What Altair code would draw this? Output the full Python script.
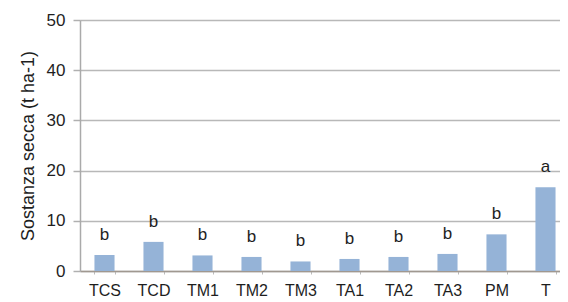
import altair as alt
import pandas as pd

categories = ["TCS", "TCD", "TM1", "TM2", "TM3", "TA1", "TA2", "TA3", "PM", "T"]
values = [3.2, 5.8, 3.1, 2.8, 1.9, 2.4, 2.8, 3.4, 7.3, 16.7]
letters = ["b", "b", "b", "b", "b", "b", "b", "b", "b", "a"]
y_ticks = [0, 10, 20, 30, 40, 50]

df = pd.DataFrame({"cat": categories, "val": values, "lab": letters})

FONT = "Liberation Sans"
TXT = "#1e1e1e"

x = alt.X("cat:N", sort=categories, title=None,
          scale=alt.Scale(paddingInner=0.59, paddingOuter=0.193, align=0.764),
          axis=alt.Axis(labelAngle=0, labelFontSize=16, labelColor=TXT,
                        labelFont=FONT, labelPadding=8, tickBand="extent",
                        tickSize=3, tickColor="#bbb", domainColor="#a09890",
                        domainWidth=1.5, grid=False))
y = alt.Y("val:Q", title="Sostanza secca (t ha-1)",
          scale=alt.Scale(domain=[0, 50], nice=False),
          axis=alt.Axis(values=y_ticks, labelFontSize=17,
                        labelColor=TXT, labelFont=FONT, tickSize=7,
                        tickColor="#b0b0b0", tickWidth=1.5, labelPadding=8,
                        domainColor="#aaa", domainWidth=1.5,
                        grid=True, gridColor="#b8b8b8", gridWidth=1.5,
                        gridOpacity=1, titleFontSize=18,
                        titleFont=FONT, titleColor=TXT,
                        titleFontWeight="normal", titlePadding=9))

base = alt.Chart(df).encode(x=x, y=y)
bars = base.mark_bar(color="#95b3d7")
text = base.mark_text(dy=-20, fontSize=17, font=FONT, color=TXT,
                      baseline="middle").encode(text="lab:N")

chart = alt.layer(bars, text).properties(
    width=480, height=251,
    padding={"left": 72, "top": 12, "right": 0, "bottom": 31},
    autosize=alt.AutoSizeParams(type="none"),
)

chart.save("out.html", embed_options={"renderer": "svg", "actions": False})
